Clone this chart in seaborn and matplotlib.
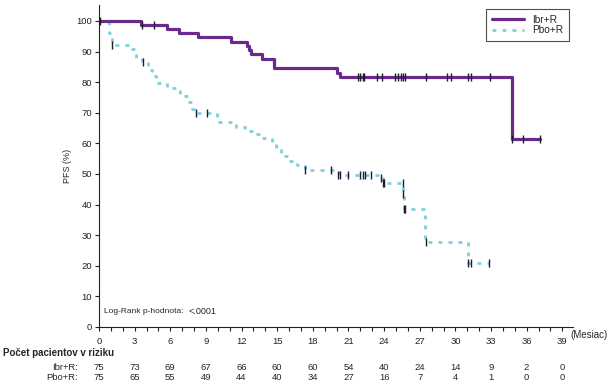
import numpy as np
import pandas as pd
import matplotlib
matplotlib.use('Agg')
import matplotlib.pyplot as plt
import seaborn as sns
from matplotlib.ticker import MultipleLocator

# Kaplan-Meier krivky (odčítané z obrázka)
ibr_t = [0, 3.5, 5.7, 6.7, 8.3, 11.1, 12.5, 12.6, 12.8, 13.7, 14.7, 20.05, 20.3, 34.8, 37.1]
ibr_s = [100, 98.7, 97.3, 96.0, 94.6, 93.1, 91.7, 90.5, 89.3, 87.6, 84.6, 83.1, 81.7, 61.3, 61.3]

pbo_t = [0, 0.8, 1.1, 2.7, 3.1, 3.6, 4.1, 4.5, 4.8, 5.7, 6.8, 7.5, 7.8, 8.2, 9.9, 11.5,
         12.3, 13.0, 13.7, 14.6, 14.9, 15.3, 16.0, 16.7, 17.3, 20.2, 23.7, 23.9, 25.6,
         25.7, 27.4, 31.1, 32.8]
pbo_s = [100, 96.0, 92.0, 90.7, 88.0, 86.7, 84.0, 82.0, 79.7, 78.2, 75.4, 73.5, 71.2, 69.9,
         67.0, 65.5, 64.1, 63.2, 61.8, 60.6, 58.5, 55.9, 54.3, 52.9, 51.3, 49.8, 48.6, 47.1,
         43.5, 38.5, 27.8, 21.0, 21.0]

# cenzurované body
ibr_cens_t = [0.05, 3.6, 4.6, 21.8, 22.0, 22.2, 22.3, 23.4, 23.8, 24.9, 25.2, 25.4, 25.6,
              25.8, 27.5, 29.3, 29.6, 31.1, 31.3, 32.9, 34.8, 35.7, 37.1]
ibr_cens_s = [100, 98.7, 98.7] + [81.7] * 17 + [61.3] * 3

pbo_cens_t = [1.1, 3.7, 8.2, 9.1, 17.3, 19.5, 20.15, 20.25, 21.0, 22.0, 22.2, 22.4, 22.9,
              23.7, 23.9, 24.0, 25.6, 25.6, 25.7, 25.75, 27.5, 31.1, 31.3, 32.8]
pbo_cens_s = [92.0, 86.7, 69.9, 69.9, 51.3, 51.3, 49.8, 49.8, 49.8, 49.8, 49.8, 49.8, 49.8,
              48.6, 47.1, 47.1, 47.1, 43.5, 38.5, 38.5, 27.8, 21.0, 21.0, 21.0]

# počet pacientov v riziku
risk_months = [0, 3, 6, 9, 12, 15, 18, 21, 24, 27, 30, 33, 36, 39]
ibr_risk = [75, 73, 69, 67, 66, 60, 60, 54, 40, 24, 14, 9, 2, 0]
pbo_risk = [75, 65, 55, 49, 44, 40, 34, 27, 16, 7, 4, 1, 0, 0]

purple = '#6a2a8c'
cyan = '#7ecfdb'
cens_col = '#1c1c2e'

sns.set_style('ticks')
plt.rcParams['font.family'] = ['Liberation Sans', 'DejaVu Sans']

fig = plt.figure(figsize=(6.09, 3.88), dpi=100)
ax = fig.add_axes([99 / 609, 1 - 327 / 388, 474 / 609, 322 / 388])

ibr = pd.DataFrame({'t': ibr_t, 's': ibr_s})
pbo = pd.DataFrame({'t': pbo_t, 's': pbo_s})

sns.lineplot(data=pbo, x='t', y='s', drawstyle='steps-post', estimator=None, sort=False,
             color=cyan, lw=2.0, ax=ax, label='Pbo+R')
ax.lines[-1].set_dashes((1.4, 2.2))
sns.lineplot(data=ibr, x='t', y='s', drawstyle='steps-post', estimator=None, sort=False,
             color=purple, lw=2.3, ax=ax, label='Ibr+R')

sns.scatterplot(x=ibr_cens_t, y=ibr_cens_s, marker='|', s=40, linewidth=1.0,
                color=cens_col, ax=ax, zorder=5)
sns.scatterplot(x=pbo_cens_t, y=pbo_cens_s, marker='|', s=40, linewidth=1.0,
                color=cens_col, ax=ax, zorder=5)

ax.set_xlim(0, 39.9)
ax.set_ylim(0, 105.2)
ax.xaxis.set_major_locator(MultipleLocator(3))
ax.xaxis.set_minor_locator(MultipleLocator(1))
ax.yaxis.set_major_locator(MultipleLocator(10))
ax.tick_params(axis='both', which='both', direction='out', length=3, width=0.8,
               labelsize=6.8, pad=2, colors='#222222')
ax.tick_params(axis='x', pad=4)
for sp in ['top', 'right']:
    ax.spines[sp].set_visible(False)
for sp in ['left', 'bottom']:
    ax.spines[sp].set_linewidth(0.8)
    ax.spines[sp].set_color('#222222')

ax.set_xlabel('')
ax.set_ylabel('PFS (%)', fontsize=6.5, labelpad=3)

ax.text(0.4, 5.0, 'Log-Rank p-hodnota:', fontsize=6, va='center', ha='left')
ax.text(7.5, 5.0, '<.0001', fontsize=6.5, va='center', ha='left')

handles, labels = ax.get_legend_handles_labels()
order = [labels.index('Ibr+R'), labels.index('Pbo+R')]
leg = ax.legend([handles[i] for i in order], [labels[i] for i in order],
                loc='upper right', bbox_to_anchor=(569 / 609, 1 - 9 / 388),
                bbox_transform=fig.transFigure, fontsize=7.3, frameon=True,
                fancybox=False, edgecolor='#222222', handlelength=3.2,
                borderpad=0.55, labelspacing=0.05, handletextpad=0.8, borderaxespad=0)
leg.get_frame().set_linewidth(0.8)

fig.text(570 / 609, 1 - 335 / 388, '(Mesiac)', fontsize=7, va='center', ha='left')

# tabuľka rizika
fig.text(3 / 609, 1 - 353 / 388, 'Počet pacientov v riziku', fontsize=7,
         fontweight='bold', va='center', ha='left')
fig.text(78 / 609, 1 - 368 / 388, 'Ibr+R:', fontsize=6.8, va='center', ha='right')
fig.text(78 / 609, 1 - 377 / 388, 'Pbo+R:', fontsize=6.8, va='center', ha='right')
for m, a, b in zip(risk_months, ibr_risk, pbo_risk):
    xf = (99 + m * 474 / 39.9) / 609
    fig.text(xf, 1 - 368 / 388, str(a), fontsize=6.8, va='center', ha='center')
    fig.text(xf, 1 - 377 / 388, str(b), fontsize=6.8, va='center', ha='center')

fig.savefig('out.png', dpi=100)
